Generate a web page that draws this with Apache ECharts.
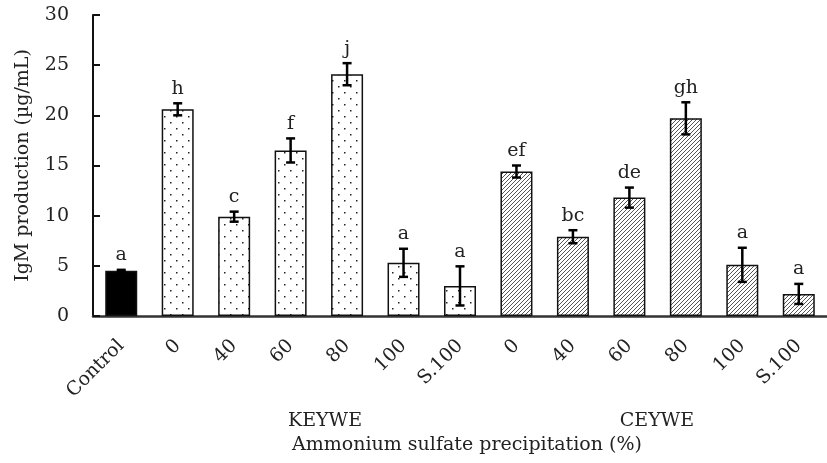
<!DOCTYPE html>
<html>
<head>
<meta charset="utf-8">
<title>IgM production</title>
<script src="https://cdn.jsdelivr.net/npm/echarts@6/dist/echarts.min.js"></script>
<style>
  html, body { margin: 0; height: 100%; background: #fff; }
  #main { width: 827px; height: 463px; }
</style>
</head>
<body>
<div id="main"></div>
<script type="text/javascript">
// categories along the x axis (two extract groups after the control)
var categories = ['Control', '0', '40', '60', '80', '100', 'S.100', '0', '40', '60', '80', '100', 'S.100'];
var groups = ['control', 'K', 'K', 'K', 'K', 'K', 'K', 'C', 'C', 'C', 'C', 'C', 'C'];
// mean IgM (ug/mL) and error (+/-)
var means = [4.5, 20.6, 9.9, 16.5, 24.1, 5.3, 3.0, 14.4, 7.9, 11.8, 19.7, 5.1, 2.2];
var errors = [0.1, 0.6, 0.5, 1.2, 1.1, 1.4, 1.95, 0.6, 0.65, 1.0, 1.6, 1.7, 1.0];
var letters = ['a', 'h', 'c', 'f', 'j', 'a', 'a', 'ef', 'bc', 'de', 'gh', 'a', 'a'];
var yTicks = [0, 5, 10, 15, 20, 25, 30];

var FONT = '"DejaVu Serif", "Liberation Serif", serif';
var FS = 19;
var TXT = '#222';

// fill patterns
function dotPattern() {
    var c = document.createElement('canvas');
    c.width = 12; c.height = 12;
    var g = c.getContext('2d');
    g.fillStyle = '#fff';
    g.fillRect(0, 0, 12, 12);
    g.fillStyle = '#222';
    g.fillRect(2, 2, 1.5, 1.5);
    g.fillRect(8, 8, 1.5, 1.5);
    return c;
}
function hatchPattern() {
    var c = document.createElement('canvas');
    c.width = 4; c.height = 4;
    var g = c.getContext('2d');
    g.fillStyle = '#fff';
    g.fillRect(0, 0, 4, 4);
    g.strokeStyle = '#444';
    g.lineWidth = 0.9;
    g.beginPath();
    g.moveTo(-1, 5); g.lineTo(5, -1);
    g.moveTo(-1, 1); g.lineTo(1, -1);
    g.moveTo(3, 5); g.lineTo(5, 3);
    g.stroke();
    return c;
}
var fills = {
    control: '#000',
    K: { image: dotPattern(), repeat: 'repeat' },
    C: { image: hatchPattern(), repeat: 'repeat' }
};

var barData = means.map(function (v, i) {
    return { value: v, itemStyle: { color: fills[groups[i]] } };
});
var errData = means.map(function (v, i) { return [i, v, errors[i]]; });

var myChart = echarts.init(document.getElementById('main'));
var option = {
    animation: false,
    grid: { left: 93, top: 15, width: 747.5, bottom: 147 },
    xAxis: {
        type: 'category',
        data: categories,
        axisLine: { lineStyle: { color: '#333', width: 2.5 } },
        axisTick: { show: false },
        axisLabel: {
            rotate: 45,
            margin: 27,
            interval: 0,
            fontFamily: FONT,
            fontSize: FS,
            color: TXT
        }
    },
    yAxis: {
        type: 'value',
        min: 0,
        max: 30,
        interval: 5,
        name: 'IgM production (\u00b5g/mL)',
        nameLocation: 'middle',
        nameGap: 60,
        nameTextStyle: { fontFamily: FONT, fontSize: FS, color: TXT },
        axisLine: { show: true, lineStyle: { color: '#111', width: 2 } },
        axisTick: { show: true, inside: true, length: 7, lineStyle: { color: '#111', width: 2 } },
        axisLabel: { margin: 24, fontFamily: FONT, fontSize: FS, color: TXT },
        splitLine: { show: false }
    },
    graphic: [
        { type: 'text', x: 325, y: 421, style: { text: 'KEYWE', font: FS + 'px ' + FONT, fill: TXT, align: 'center', verticalAlign: 'middle' } },
        { type: 'text', x: 657, y: 421, style: { text: 'CEYWE', font: FS + 'px ' + FONT, fill: TXT, align: 'center', verticalAlign: 'middle' } },
        { type: 'text', x: 467, y: 445, style: { text: 'Ammonium sulfate precipitation (%)', font: FS + 'px ' + FONT, fill: TXT, align: 'center', verticalAlign: 'middle' } }
    ],
    series: [
        {
            type: 'bar',
            barWidth: 32,
            data: barData,
            itemStyle: { borderColor: '#111', borderWidth: 1.5 }
        },
        {
            type: 'custom',
            data: errData,
            z: 5,
            renderItem: function (params, api) {
                var i = api.value(0);
                var m = api.value(1);
                var e = api.value(2);
                var top = api.coord([i, m + e]);
                var bot = api.coord([i, m - e]);
                var hw = 4.5;
                var st = { stroke: '#000', lineWidth: 2.5 };
                return {
                    type: 'group',
                    children: [
                        { type: 'line', shape: { x1: top[0], y1: top[1], x2: bot[0], y2: bot[1] }, style: st },
                        { type: 'line', shape: { x1: top[0] - hw, y1: top[1], x2: top[0] + hw, y2: top[1] }, style: st },
                        { type: 'line', shape: { x1: bot[0] - hw, y1: bot[1], x2: bot[0] + hw, y2: bot[1] }, style: st },
                        {
                            type: 'text',
                            style: {
                                text: letters[params.dataIndex],
                                x: top[0], y: top[1] - 5,
                                align: 'center', verticalAlign: 'bottom',
                                font: FS + 'px ' + FONT, fill: TXT
                            }
                        }
                    ]
                };
            }
        }
    ]
};
myChart.setOption(option);
</script>
</body>
</html>
